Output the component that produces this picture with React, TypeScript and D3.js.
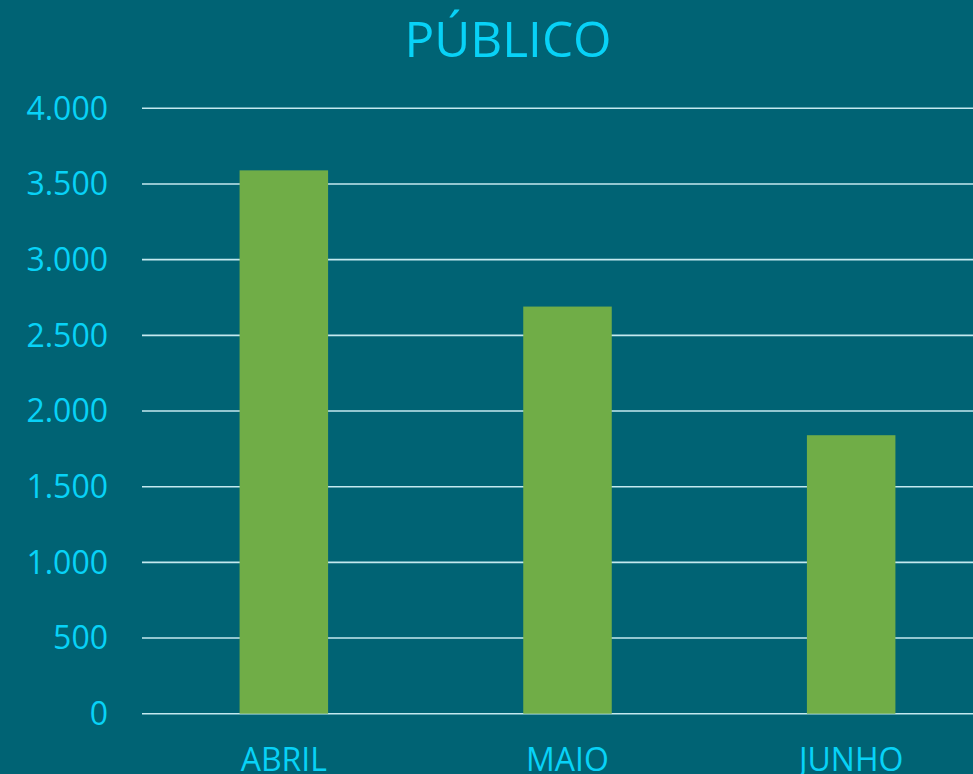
import React from "react";
import * as d3 from "d3";

const categories = ["ABRIL", "MAIO", "JUNHO"];
const values = [3590, 2690, 1840];
const yTicks = [0, 500, 1000, 1500, 2000, 2500, 3000, 3500, 4000];
const title = "PÚBLICO";

const W = 973;
const H = 774;
const BG = "#006374";
const TEXT = "#08D2F7";
const GRID = "#C4E9EF";
const BAR = "#70AD47";
const FONT = "'Open Sans', 'Noto Sans', sans-serif";

export default function App() {
  const x = d3
    .scaleBand<string>()
    .domain(categories)
    .range([142, 993])
    .paddingInner(0.688)
    .paddingOuter(0.344);
  const y = d3.scaleLinear().domain([0, 4000]).range([713.7, 108.3]);
  const fmt = (v: number) => d3.format(",")(v).replace(/,/g, ".");

  return (
    <svg
      width={W}
      height={H}
      style={{ position: "fixed", left: 0, top: 0, display: "block" }}
    >
      <rect x={0} y={0} width={W} height={H} fill={BG} />
      <text
        x={508}
        y={57}
        textAnchor="middle"
        fill={TEXT}
        fontFamily={FONT}
        fontSize={49.5}
      >
        {title}
      </text>
      {yTicks.map((t) => (
        <g key={t}>
          <line x1={142} x2={W} y1={y(t)} y2={y(t)} stroke={GRID} strokeWidth={1.6} />
          <text
            x={108}
            y={y(t)}
            dy="0.35em"
            textAnchor="end"
            fill={TEXT}
            fontFamily={FONT}
            fontSize={32}
          >
            {fmt(t)}
          </text>
        </g>
      ))}
      {categories.map((c, i) => (
        <rect
          key={c}
          x={x(c)}
          y={y(values[i])}
          width={x.bandwidth()}
          height={y(0) - y(values[i])}
          fill={BAR}
        />
      ))}
      {categories.map((c) => (
        <text
          key={c}
          x={(x(c) as number) + x.bandwidth() / 2}
          y={771}
          textAnchor="middle"
          fill={TEXT}
          fontFamily={FONT}
          fontSize={32}
        >
          {c}
        </text>
      ))}
    </svg>
  );
}
